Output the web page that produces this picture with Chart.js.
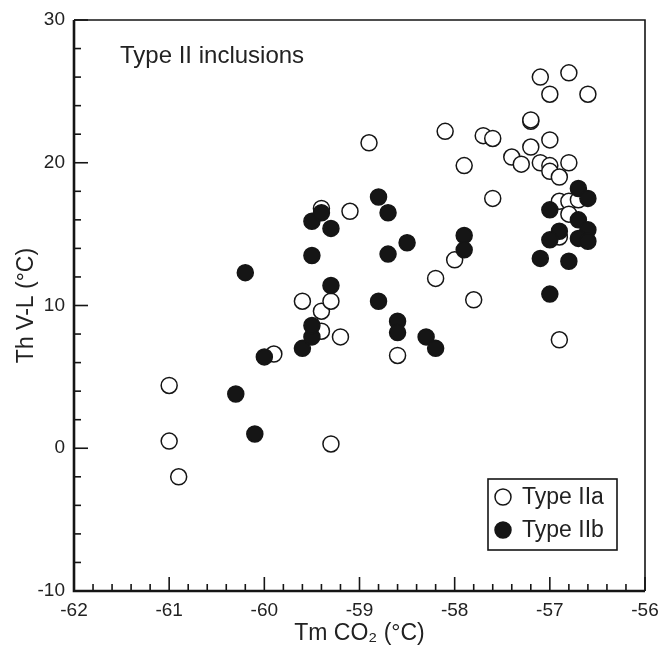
<!DOCTYPE html>
<html>
<head>
<meta charset="utf-8">
<script src="https://cdn.jsdelivr.net/npm/chart.js@4.4.1/dist/chart.umd.min.js"></script>
<style>
    html, body { margin: 0; padding: 0; background: #fff; }
    canvas { display: block; }
</style>
</head>
<body>
<canvas id="chartCanvas" width="659" height="648"></canvas>
<script>
// --- data ---
var typeIIaX = [-61.0, -61.0, -60.9, -59.9, -59.3, -59.2, -59.4, -59.6, -59.3, -59.4,
                -58.9, -59.4, -59.1, -58.6, -58.1, -57.7, -57.6, -57.9, -57.4, -57.6,
                -58.0, -58.2, -57.8, -56.9, -57.1, -56.8, -57.0, -56.6, -57.2, -57.2,
                -57.0, -57.2, -57.3, -57.1, -57.0, -57.0, -56.9, -56.8, -56.9, -56.8,
                -56.7, -56.8, -56.9]
var typeIIaY = [4.4, 0.5, -2.0, 6.6, 0.3, 7.8, 9.6, 10.3, 10.3, 8.2,
                21.4, 16.8, 16.6, 6.5, 22.2, 21.9, 21.7, 19.8, 20.4, 17.5,
                13.2, 11.9, 10.4, 7.6, 26.0, 26.3, 24.8, 24.8, 22.9, 23.0,
                21.6, 21.1, 19.9, 20.0, 19.8, 19.4, 19.0, 20.0, 17.3, 17.3,
                17.4, 16.4, 14.8]

var typeIIbX = [-60.3, -60.1, -60.0, -59.6, -59.5, -59.5, -60.2, -59.5, -59.4, -59.3,
                -59.5, -59.3, -58.8, -58.7, -58.7, -58.5, -58.8, -58.6, -58.6, -58.3,
                -58.2, -57.9, -57.9, -56.7, -56.6, -57.0, -56.7, -56.6, -56.9, -57.0,
                -56.7, -56.6, -57.1, -56.8, -57.0]
var typeIIbY = [3.8, 1.0, 6.4, 7.0, 7.8, 8.6, 12.3, 15.9, 16.5, 15.4,
                13.5, 11.4, 17.6, 16.5, 13.6, 14.4, 10.3, 8.9, 8.1, 7.8,
                7.0, 14.9, 13.9, 18.2, 17.5, 16.7, 16.0, 15.3, 15.2, 14.6,
                14.7, 14.5, 13.3, 13.1, 10.8]

var seriesNames = ['Type IIa', 'Type IIb']
var xMin = -62, xMax = -56
var yMin = -10, yMax = 30
var panelTitle = 'Type II inclusions'
var xTitle = 'Tm CO\u2082 (\u00B0C)'
var yTitle = 'Th V-L (\u00B0C)'

var ink = '#151515'
var fontFamily = '"Liberation Sans", Arial, Helvetica, sans-serif'

function toPoints(xs, ys) {
    return xs.map((x, i) => ({ x: x, y: ys[i] }))
}

// no label overhang padding, so the plot box sits where the figure has it
function noOverhang(s) {
    s.paddingLeft = 0
    s.paddingRight = 0
    s.paddingTop = 0
    s.paddingBottom = 0
}

// inward ticks, frame, panel title and legend box
var framePlugin = {
    id: 'frame',
    afterDraw(chart) {
        var ctx = chart.ctx
        var a = chart.chartArea
        var xs = chart.scales.x
        var ys = chart.scales.y
        ctx.save()
        ctx.strokeStyle = ink
        ctx.lineWidth = 1.6

        // x ticks: major every 1, minor every 0.2
        for (var i = 0; i <= (xMax - xMin) * 5; i++) {
            var px = xs.getPixelForValue(xMin + i * 0.2)
            var len = i % 5 === 0 ? 14 : 7
            ctx.beginPath()
            ctx.moveTo(px, a.bottom)
            ctx.lineTo(px, a.bottom - len)
            ctx.stroke()
        }
        // y ticks: major every 10, minor every 2
        for (var j = 0; j <= (yMax - yMin) / 2; j++) {
            var py = ys.getPixelForValue(yMin + j * 2)
            var len2 = j % 5 === 0 ? 14 : 7
            ctx.beginPath()
            ctx.moveTo(a.left, py)
            ctx.lineTo(a.left + len2, py)
            ctx.stroke()
        }

        // frame: thin top/right, heavier left/bottom
        ctx.lineWidth = 1.6
        ctx.beginPath()
        ctx.moveTo(a.left, a.top)
        ctx.lineTo(a.right, a.top)
        ctx.lineTo(a.right, a.bottom)
        ctx.stroke()
        ctx.lineWidth = 2.6
        ctx.beginPath()
        ctx.moveTo(a.left, a.top)
        ctx.lineTo(a.left, a.bottom)
        ctx.lineTo(a.right, a.bottom)
        ctx.stroke()

        // panel title
        ctx.fillStyle = '#222'
        ctx.font = '24px ' + fontFamily
        ctx.textBaseline = 'middle'
        ctx.textAlign = 'left'
        ctx.fillText(panelTitle, a.left + 46, a.top + 36)

        // legend box
        var bx = a.right - 157, by = a.bottom - 112, bw = 129, bh = 71
        ctx.lineWidth = 1.6
        ctx.strokeRect(bx, by, bw, bh)
        ctx.font = '23px ' + fontFamily
        chart.data.datasets.forEach((ds, k) => {
            var cy = by + 18 + k * 33
            ctx.beginPath()
            ctx.arc(bx + 15, cy, 8, 0, Math.PI * 2)
            ctx.fillStyle = ds.backgroundColor
            ctx.fill()
            ctx.lineWidth = 1.5
            ctx.strokeStyle = ink
            ctx.stroke()
            ctx.fillStyle = '#222'
            ctx.fillText(ds.label, bx + 34, cy + 1)
        })
        ctx.restore()
    }
}

var ctx = document.getElementById('chartCanvas')
var myChart = new Chart(ctx, {
    type: 'scatter',
    data: {
        datasets: [
            {
                label: seriesNames[0],
                data: toPoints(typeIIaX, typeIIaY),
                backgroundColor: '#ffffff',
                borderColor: ink,
                borderWidth: 1.5,
                pointRadius: 8,
                pointHoverRadius: 8,
                order: 2
            },
            {
                label: seriesNames[1],
                data: toPoints(typeIIbX, typeIIbY),
                backgroundColor: ink,
                borderColor: ink,
                borderWidth: 1.5,
                pointRadius: 8,
                pointHoverRadius: 8,
                order: 1
            }
        ]
    },
    options: {
        responsive: false,
        animation: false,
        layout: { padding: { top: 20, right: 14, left: 0, bottom: 0 } },
        plugins: {
            legend: { display: false },
            tooltip: { enabled: false }
        },
        scales: {
            x: {
                type: 'linear',
                min: xMin,
                max: xMax,
                ticks: {
                    stepSize: 1,
                    padding: 8,
                    color: '#222',
                    font: { family: fontFamily, size: 19 },
                    maxRotation: 0
                },
                grid: { display: false, drawTicks: false },
                border: { display: false },
                title: {
                    display: true,
                    text: xTitle,
                    color: '#222',
                    font: { family: fontFamily, size: 23 },
                    padding: { top: 0, bottom: 1 }
                },
                afterFit: s => { s.height = 57; noOverhang(s) }
            },
            y: {
                type: 'linear',
                min: yMin,
                max: yMax,
                ticks: {
                    stepSize: 10,
                    padding: 9,
                    color: '#222',
                    font: { family: fontFamily, size: 19 }
                },
                grid: { display: false, drawTicks: false },
                border: { display: false },
                title: {
                    display: true,
                    text: yTitle,
                    color: '#222',
                    font: { family: fontFamily, size: 23 },
                    padding: { top: 13, bottom: 0 }
                },
                afterFit: s => { s.width = 74; noOverhang(s) }
            }
        }
    },
    plugins: [framePlugin]
})
</script>
</body>
</html>
